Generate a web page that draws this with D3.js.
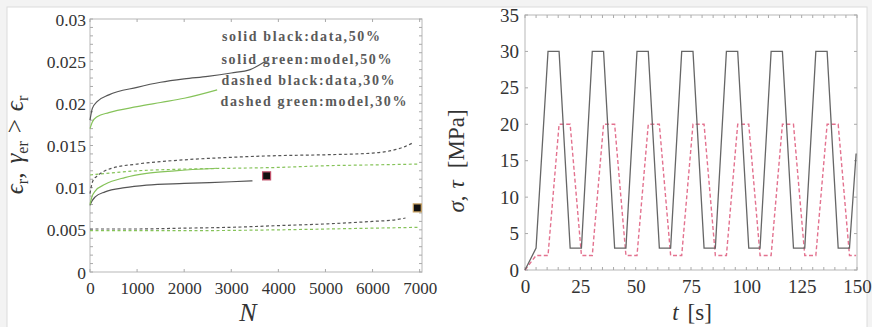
<!DOCTYPE html>
<html>
<head>
<meta charset="utf-8">
<script src="https://cdn.jsdelivr.net/npm/d3@7/dist/d3.min.js"></script>
<style>
  html, body { margin: 0; padding: 0; background: #f3f3f3; }
  svg { display: block; }
  .tick text { font-family: "Liberation Serif", "DejaVu Serif", serif; fill: #333; }
</style>
</head>
<body>
<svg id="fig" width="872" height="327"></svg>
<script>
// ---------- left panel: strain vs. number of cycles ----------
const legendLines = [
  "solid black:data,50%",
  "solid green:model,50%",
  "dashed black:data,30%",
  "dashed green:model,30%"
];
const strainTicks = [0, 0.005, 0.01, 0.015, 0.02, 0.025, 0.03];
const cycleTicks = [0, 1000, 2000, 3000, 4000, 5000, 6000, 7000];

// solid black, data 50%
const data50N = [0, 50, 150, 400, 1000, 1500, 2000, 2500, 3000, 3400, 3700];
const data50V = [0.0180, 0.0194, 0.0202, 0.0210, 0.0219, 0.0225, 0.0229, 0.0232, 0.0236, 0.0240, 0.0249];
// solid green, model 50%
const model50N = [0, 50, 150, 400, 1000, 1500, 2000, 2700];
const model50V = [0.0170, 0.0178, 0.0184, 0.0189, 0.0196, 0.0201, 0.0206, 0.0216];
// solid black, data 30% (first branch)
const data30aN = [0, 40, 110, 320, 740, 1200, 2000, 3000, 3450];
const data30aV = [0.0079, 0.0084, 0.0089, 0.0095, 0.0100, 0.0103, 0.0105, 0.0107, 0.0108];
// solid green, model 30% (first branch)
const model30aN = [0, 40, 110, 320, 740, 1200, 1800, 2700];
const model30aV = [0.0080, 0.0089, 0.0096, 0.0104, 0.0112, 0.0117, 0.0120, 0.0123];
// dashed black, data 30% (upper)
const data30bN = [0, 60, 180, 460, 1000, 2000, 3000, 4000, 5000, 6000, 6400, 6700, 6850];
const data30bV = [0.0093, 0.0108, 0.0115, 0.0123, 0.0128, 0.0133, 0.0136, 0.0138, 0.0139, 0.0141, 0.0144, 0.0149, 0.0153];
// dashed green, model 30% (upper)
const model30bN = [0, 1000, 2000, 3000, 4000, 5000, 6000, 7000];
const model30bV = [0.0115, 0.0120, 0.0122, 0.0123, 0.0124, 0.0126, 0.0127, 0.0128];
// dashed black, data 30% (lower)
const data30cN = [0, 1000, 2000, 3000, 4000, 5000, 6000, 6500, 6700];
const data30cV = [0.0051, 0.0051, 0.0052, 0.0053, 0.0055, 0.0057, 0.0060, 0.0062, 0.0064];
// dashed green, model 30% (lower)
const model30cN = [0, 2000, 4000, 6000, 7000];
const model30cV = [0.0049, 0.0049, 0.0050, 0.0052, 0.0053];
// failure points
const failN = [3750, 6950];
const failV = [0.0114, 0.0076];
const failEdge = ["#c0506a", "#c8a060"];

// ---------- right panel: loading history ----------
const timeTicks = [0, 25, 50, 75, 100, 125, 150];
const stressTicks = [0, 5, 10, 15, 20, 25, 30, 35];
const loadT = [0, 5, 10.4, 15.4, 20.4, 25.5, 30.4, 35.5, 40.5, 45.6, 50.6, 55.7, 60.7, 65.8,
  70.8, 75.9, 80.9, 86.0, 91.0, 96.1, 101.1, 106.2, 111.2, 116.3, 121.3, 126.4, 131.4, 136.5,
  141.5, 146.6, 149.6];
const sigma = [0, 3, 30, 30, 3, 3, 30, 30, 3, 3, 30, 30, 3, 3, 30, 30, 3, 3, 30, 30, 3, 3,
  30, 30, 3, 3, 30, 30, 3, 3, 16];
const tau = [0, 2, 2, 20, 20, 2, 2, 20, 20, 2, 2, 20, 20, 2, 2, 20, 20, 2, 2, 20, 20, 2,
  2, 20, 20, 2, 2, 20, 20, 2, 2];

const svg = d3.select("#fig");
svg.append("rect").attr("x", 7).attr("y", 7).attr("width", 860).attr("height", 330)
  .attr("fill", "#fff").attr("stroke", "#dcdcdc");

const FRAME = "#c4c4c4";
const TXT = "#333";
const serif = "'Liberation Serif', 'DejaVu Serif', serif";
const zip = (a, b) => a.map((v, i) => [v, b[i]]);

function frame(g, x, y) {
  const [x0, x1] = x.range(), [y0, y1] = y.range();
  g.append("rect").attr("x", x0).attr("y", y1).attr("width", x1 - x0).attr("height", y0 - y1)
    .attr("fill", "none").attr("stroke", FRAME).attr("stroke-width", 1.2);
}
function styleAxis(sel, fs) {
  sel.select(".domain").remove();
  sel.selectAll(".tick line").attr("stroke", "#aaa");
  sel.selectAll(".tick text").attr("font-size", fs).attr("fill", TXT);
}
function inwardTicks(g, x, y, xs, ys, len) {
  const [x0, x1] = x.range(), [y0, y1] = y.range();
  xs.forEach(v => {
    g.append("line").attr("x1", x(v)).attr("x2", x(v)).attr("y1", y0).attr("y2", y0 - len).attr("stroke", "#aaa");
    g.append("line").attr("x1", x(v)).attr("x2", x(v)).attr("y1", y1).attr("y2", y1 + len).attr("stroke", "#aaa");
  });
  ys.forEach(v => {
    g.append("line").attr("y1", y(v)).attr("y2", y(v)).attr("x1", x0).attr("x2", x0 + len).attr("stroke", "#aaa");
    g.append("line").attr("y1", y(v)).attr("y2", y(v)).attr("x1", x1).attr("x2", x1 - len).attr("stroke", "#aaa");
  });
}

// ----- left panel -----
{
  const x = d3.scaleLinear().domain([0, 7050]).range([90, 422]);
  const y = d3.scaleLinear().domain([0, 0.03]).range([272, 19]);
  const g = svg.append("g");
  frame(g, x, y);
  const minorY = d3.range(0, 0.0301, 0.001);
  inwardTicks(g, x, y, cycleTicks, minorY, 3);

  const ax = g.append("g").attr("transform", `translate(0,${y.range()[0]})`)
    .call(d3.axisBottom(x).tickValues(cycleTicks).tickSize(0).tickPadding(10).tickFormat(d3.format("d")));
  styleAxis(ax, 17);
  const ay = g.append("g").attr("transform", `translate(${x.range()[0]},0)`)
    .call(d3.axisLeft(y).tickValues(strainTicks).tickSize(0).tickPadding(4)
      .tickFormat(d => d === 0 ? "0" : d3.format(".3~f")(d)));
  styleAxis(ay, 17.5);
  ay.selectAll(".tick text").attr("dy", "0.35em");

  const line = d3.line().x(d => x(d[0])).y(d => y(d[1])).curve(d3.curveMonotoneX);
  const BLACK = "#555", GREEN = "#86c35a";
  const series = [
    [data50N, data50V, BLACK, null],
    [model50N, model50V, GREEN, null],
    [data30aN, data30aV, BLACK, null],
    [model30aN, model30aV, GREEN, null],
    [model30bN, model30bV, GREEN, "3,2.5"],
    [data30bN, data30bV, BLACK, "3,2.5"],
    [model30cN, model30cV, GREEN, "3,2.5"],
    [data30cN, data30cV, BLACK, "3,2.5"]
  ];
  series.forEach(([n, v, c, dash]) => {
    g.append("path").datum(zip(n, v)).attr("d", line).attr("fill", "none")
      .attr("stroke", c).attr("stroke-width", 1.2)
      .attr("stroke-dasharray", dash);
  });
  failN.forEach((n, i) => {
    g.append("rect").attr("x", x(n) - 4).attr("y", y(failV[i]) - 4).attr("width", 8).attr("height", 8)
      .attr("fill", "#111").attr("stroke", failEdge[i]).attr("stroke-width", 1.2);
  });

  const leg = g.append("g");
  const legY = [40.5, 63.5, 85, 106];
  const legX = [222, 221.5, 221.5, 220.5];
  const legW = [158, 170, 173, 186];
  legendLines.forEach((t, i) => {
    leg.append("text").attr("x", legX[i]).attr("y", legY[i]).text(t)
      .attr("font-family", serif).attr("font-size", 14).attr("font-weight", "bold")
      .attr("fill", "#5a5a5a").attr("textLength", legW[i]).attr("lengthAdjust", "spacing");
  });

  // axis titles
  const yt = g.append("text").attr("transform", "translate(23,145) rotate(-90)")
    .attr("text-anchor", "middle").attr("font-family", serif).attr("font-size", 25).attr("fill", TXT);
  yt.append("tspan").attr("font-style", "italic").text("ϵ");
  yt.append("tspan").attr("font-size", 16).attr("dy", 5).text("r");
  yt.append("tspan").attr("dy", -5).text(",");
  yt.append("tspan").attr("dx", 9).attr("font-style", "italic").text("γ");
  yt.append("tspan").attr("font-size", 16).attr("dy", 5).text("er");
  yt.append("tspan").attr("dy", -5).attr("dx", 8).text(">");
  yt.append("tspan").attr("dx", 8).attr("font-style", "italic").text("ϵ");
  yt.append("tspan").attr("font-size", 16).attr("dy", 5).text("r");

  g.append("text").attr("x", 248).attr("y", 321).attr("text-anchor", "middle")
    .attr("font-family", serif).attr("font-style", "italic").attr("font-size", 26).attr("fill", TXT).text("N");
}

// ----- right panel -----
{
  const x = d3.scaleLinear().domain([0, 150]).range([525, 857]);
  const y = d3.scaleLinear().domain([0, 35]).range([270, 15]);
  const g = svg.append("g");
  frame(g, x, y);
  inwardTicks(g, x, y, d3.range(0, 151, 5), stressTicks, 3);

  const ax = g.append("g").attr("transform", `translate(0,${y.range()[0]})`)
    .call(d3.axisBottom(x).tickValues(timeTicks).tickSize(0).tickPadding(10));
  styleAxis(ax, 19);
  const ay = g.append("g").attr("transform", `translate(${x.range()[0]},0)`)
    .call(d3.axisLeft(y).tickValues(stressTicks).tickSize(0).tickPadding(6));
  styleAxis(ay, 19);

  const line = d3.line().x(d => x(d[0])).y(d => y(d[1]));
  g.append("path").datum(zip(loadT, tau)).attr("d", line).attr("fill", "none")
    .attr("stroke", "#e3728f").attr("stroke-width", 1.4).attr("stroke-dasharray", "4,2.5");
  g.append("path").datum(zip(loadT, sigma)).attr("d", line).attr("fill", "none")
    .attr("stroke", "#666").attr("stroke-width", 1.3);

  const yt = g.append("text").attr("transform", "translate(464,161) rotate(-90)")
    .attr("text-anchor", "middle").attr("font-family", serif).attr("font-size", 23).attr("fill", TXT);
  yt.append("tspan").attr("font-style", "italic").text("σ");
  yt.append("tspan").text(",");
  yt.append("tspan").attr("dx", 7).attr("font-style", "italic").text("τ");
  yt.append("tspan").attr("dx", 12).text("[MPa]");

  const xt = g.append("text").attr("x", 692).attr("y", 320).attr("text-anchor", "middle")
    .attr("font-family", serif).attr("font-size", 23).attr("fill", TXT);
  xt.append("tspan").attr("font-style", "italic").text("t");
  xt.append("tspan").attr("dx", 9).text("[s]");
}
</script>
</body>
</html>
